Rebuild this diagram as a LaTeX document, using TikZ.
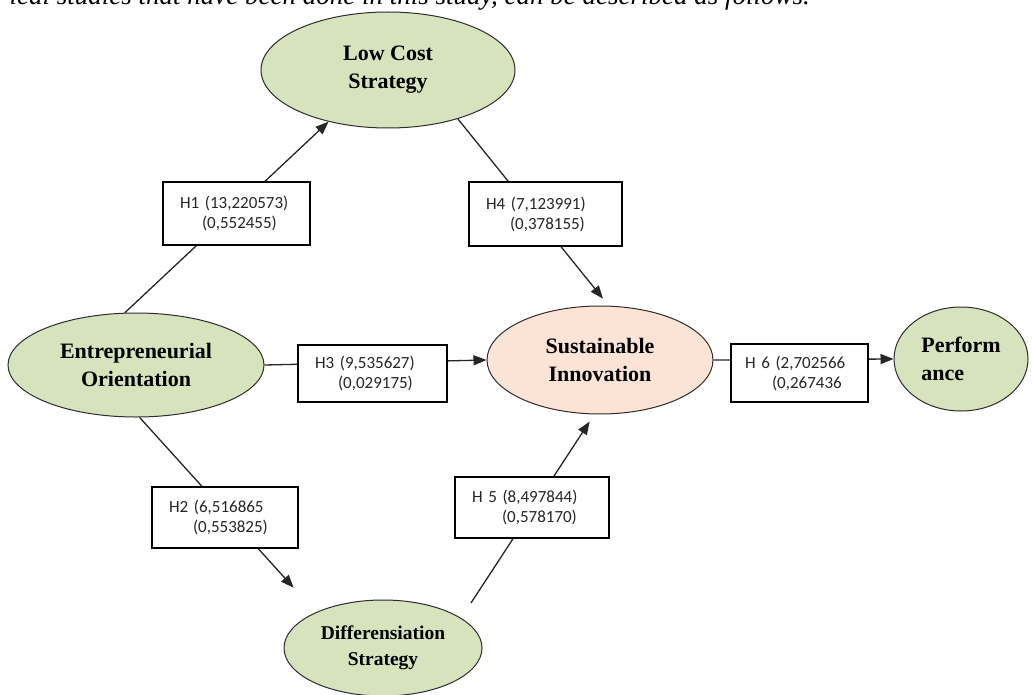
\documentclass[tikz,border=0pt]{standalone}
\usepackage{fontspec}
\setmainfont{Liberation Serif}
\newfontfamily\boxfont{Carlito}
\usetikzlibrary{shapes.geometric,arrows.meta,calc}
\definecolor{nodegreen}{RGB}{214,227,188}
\definecolor{nodepeach}{RGB}{251,228,213}
\definecolor{inkline}{RGB}{45,45,45}
\begin{document}
\begin{tikzpicture}[x=1pt,y=-1pt,
  concept/.style={ellipse, draw=inkline, line width=1pt, fill=nodegreen, inner sep=0pt,
    align=center, font=\fontsize{22}{28}\selectfont\bfseries},
  hyp/.style={draw=black, line width=1.2pt, fill=white, align=left, inner xsep=17pt,
    inner ysep=0pt, font=\boxfont\fontsize{17}{20}\selectfont, text=black!85},
  link/.style={draw=black!85, line width=1.3pt},
  arr/.style={link, -{Triangle[length=13pt,width=10pt]}},
  capt/.style={font=\fontsize{27}{30}\selectfont\itshape, inner sep=0pt, anchor=base east}
]
\clip (0,0) rectangle (1032,695);
\useasboundingbox (0,0) rectangle (1032,695);
\fill[white] (0,0) rectangle (1032,695);

\node[capt] (caption) at (810,5) {ical studies that have been done in this study, can be described as follows.};

% concepts
\node[concept, minimum width=254pt, minimum height=116pt] (lc) at (388,70) {Low Cost\\Strategy};
\node[concept, minimum width=256pt, minimum height=104pt] (eo) at (136,365) {Entrepreneurial\\Orientation};
\node[concept, fill=nodepeach, minimum width=226pt, minimum height=108pt] (si) at (600,360) {Sustainable\\Innovation};
\node[concept, align=left, minimum width=134pt, minimum height=104pt] (pf) at (961,359) {Perform\\ance};
\node[concept, minimum width=198pt, minimum height=96pt, font=\fontsize{19.5}{26}\selectfont\bfseries] (ds) at (383,648) {Differensiation\\Strategy};

% connectors
\draw[arr] (eo.102) -- (lc.221);
\draw[arr, shorten >=9pt] (lc.325) -- (si.81);
\draw[arr] (eo.east) -- (si.west);
\draw[arr] (si.east) -- (pf.west);
\draw[arr, shorten >=33pt] (eo.274) -- (ds.152);
\draw[arr, shorten <=18pt, shorten >=8.5pt] (ds.21) -- (si.264);

% hypothesis boxes
\node[hyp, text width=113pt, minimum height=63pt] (h1) at (236.5,213.5) {H1 (13,220573)\\\hspace*{22pt}(0,552455)};
\node[hyp, text width=119pt, minimum height=64pt] (h4) at (545.5,214) {H4 (7,123991)\\\hspace*{24pt}(0,378155)};
\node[hyp, text width=115pt, minimum height=57pt] (h3) at (372.5,373.5) {H3 (9,535627)\\\hspace*{23pt}(0,029175)};
\node[hyp, inner xsep=14pt, text width=109pt, minimum height=58pt] (h6) at (799.5,373) {H 6 (2,702566\\\hspace*{27pt}(0,267436};
\node[hyp, text width=112pt, minimum height=61pt] (h2) at (225,517.5) {H2 (6,516865\\\hspace*{24pt}(0,553825)};
\node[hyp, text width=120pt, minimum height=61pt] (h5) at (532,507.5) {H 5 (8,497844)\\\hspace*{30pt}(0,578170)};
\end{tikzpicture}
\end{document}
